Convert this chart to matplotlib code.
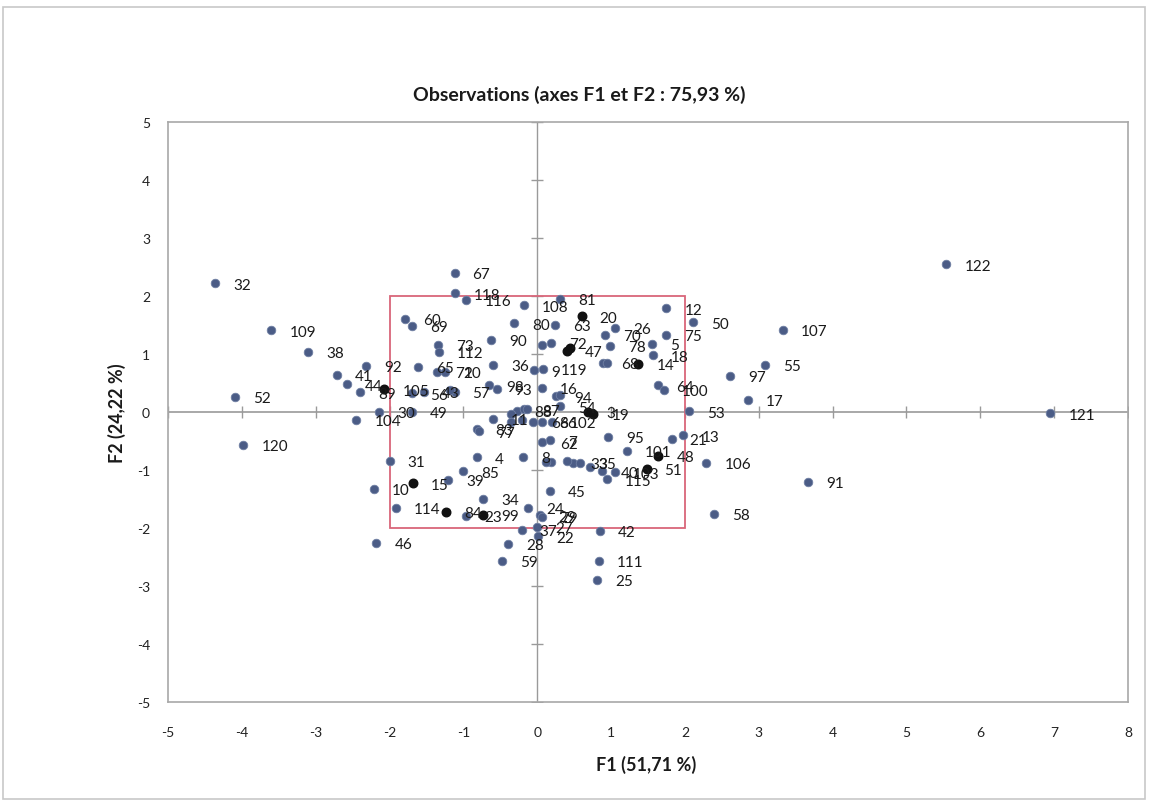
import numpy as np
import matplotlib.pyplot as plt
from matplotlib.patches import Rectangle

plt.rcParams['font.family'] = ['Lato', 'DejaVu Sans']
plt.rcParams['axes.unicode_minus'] = False

# observations drawn in blue
obs_labels = ['32', '109', '38', '92', '41', '44', '89', '52', '104', '120',
              '30', '46', '10', '39', '85', '31', '114', '23', '34', '4',
              '8', '24', '37', '28', '59', '45', '62', '7', '83', '77',
              '11', '56', '43', '57', '', '98', '93', '16', '9', '119',
              '36', '90', '72', '', '26', '70', '78', '5', '18', '68',
              '', '64', '100', '12', '50', '75', '107', '55', '97', '17',
              '53', '21', '13', '101', '95', '106', '91', '58', '40', '103',
              '115', '33', '35', '42', '111', '25', '22', '29', '79', '27',
              '54', '94', '66', '86', '102', '88', '87', '67', '118', '116',
              '108', '81', '63', '80', '60', '69', '73', '112', '65', '71',
              '20', '49', '122', '121', '', '', '', '', '', '',
              '', '', '']
obs_f1 = [-4.36, -3.60, -3.10, -2.32, -2.71, -2.58, -2.40, -4.09, -2.45, -3.98,
          -2.14, -2.18, -2.21, -1.21, -1.00, -2.00, -1.91, -0.96, -0.73, -0.82,
          -0.19, -0.12, -0.21, -0.39, -0.48, 0.17, 0.06, 0.17, -0.82, -0.79,
          -0.60, -1.70, -1.54, -1.12, -1.18, -0.66, -0.55, 0.06, -0.05, 0.08,
          -0.60, -0.63, 0.19, 0.06, 1.05, 0.92, 0.98, 1.55, 1.57, 0.89,
          0.94, 1.64, 1.71, 1.75, 2.11, 1.75, 3.33, 3.09, 2.61, 2.85,
          2.05, 1.82, 1.98, 1.21, 0.96, 2.29, 3.67, 2.40, 0.88, 1.05,
          0.94, 0.48, 0.58, 0.85, 0.83, 0.81, 0.01, 0.04, 0.06, 0.00,
          0.31, 0.26, -0.06, 0.06, 0.20, -0.28, -0.18, -1.12, -1.11, -0.96,
          -0.18, 0.31, 0.24, -0.31, -1.79, -1.70, -1.34, -1.33, -1.62, -1.36,
          -1.25, -1.70, 5.54, 6.95, -0.35, -0.21, 0.40, 0.71, 0.19, 0.12,
          -0.14, 0.31, -0.35]
obs_f2 = [2.22, 1.41, 1.04, 0.80, 0.64, 0.48, 0.34, 0.26, -0.13, -0.56,
          0.00, -2.26, -1.32, -1.17, -1.02, -0.84, -1.65, -1.79, -1.50, -0.78,
          -0.77, -1.65, -2.03, -2.27, -2.56, -1.36, -0.52, -0.49, -0.29, -0.33,
          -0.12, 0.32, 0.35, 0.35, 0.38, 0.46, 0.40, 0.42, 0.72, 0.75,
          0.81, 1.24, 1.19, 1.16, 1.45, 1.33, 1.14, 1.18, 0.98, 0.85,
          0.84, 0.46, 0.38, 1.79, 1.55, 1.33, 1.42, 0.81, 0.62, 0.21,
          0.01, -0.46, -0.40, -0.67, -0.43, -0.88, -1.20, -1.75, -1.02, -1.04,
          -1.16, -0.88, -0.88, -2.05, -2.56, -2.89, -2.14, -1.78, -1.81, -1.98,
          0.10, 0.27, -0.17, -0.17, -0.17, 0.02, 0.05, 2.40, 2.05, 1.94,
          1.84, 1.95, 1.50, 1.53, 1.61, 1.49, 1.16, 1.04, 0.78, 0.69,
          0.69, 0.00, 2.55, -0.02, -0.03, -0.14, -0.84, -0.95, -0.87, -0.87,
          0.06, 0.29, -0.17]

# observations drawn in black
hl_labels = ['105', '15', '84', '99', '47', '', '20', '14', '3', '19', '48', '51']
hl_f1 = [-2.07, -1.68, -1.23, -0.73, 0.40, 0.44, 0.60, 1.37, 0.69, 0.76, 1.64, 1.48]
hl_f2 = [0.39, -1.23, -1.72, -1.77, 1.06, 1.10, 1.65, 0.83, 0.00, -0.03, -0.75, -0.98]

fig = plt.figure(figsize=(11.51, 8.03), dpi=100)
ax = fig.add_axes([0.146, 0.1245, 0.834, 0.7223])

ax.scatter(obs_f1, obs_f2, s=38, color='#4b5c86', edgecolor='#6f7fa3', linewidth=0.6, zorder=3)
ax.scatter(hl_f1, hl_f2, s=38, color='#111111', zorder=4)

for lab, x, y in zip(obs_labels + hl_labels, obs_f1 + hl_f1, obs_f2 + hl_f2):
    if lab:
        ax.annotate(lab, (x, y), xytext=(13, -1), textcoords='offset points',
                    va='center', ha='left', fontsize=11, color='#1a1a1a', zorder=5)

# red square around the center
ax.add_patch(Rectangle((-2, -2), 4, 4, fill=False, edgecolor='#d9667a', linewidth=1.3, zorder=2))

# axes through the origin with small cross ticks
ax.axhline(0, color='#9a9a9a', linewidth=1.2, zorder=1)
ax.axvline(0, color='#9a9a9a', linewidth=1.0, zorder=1)
xt = np.arange(-5, 9)
yt = np.arange(-5, 6)
ax.plot(xt, np.zeros(len(xt)), '|', color='#9a9a9a', markersize=8, zorder=1)
ax.plot(np.zeros(len(yt)), yt, '_', color='#9a9a9a', markersize=8, zorder=1)

ax.set_xlim(-5, 8)
ax.set_ylim(-5, 5)
ax.set_xticks(xt)
ax.set_yticks(yt)
ax.tick_params(length=0, labelsize=10, colors='#222222')
ax.tick_params(axis='x', pad=17)
ax.tick_params(axis='y', pad=13)
for s in ax.spines.values():
    s.set_color('#a8a8a8')
    s.set_linewidth(1.2)

fig.text(0.503, 0.882, 'Observations (axes F1 et F2 : 75,93 %)', ha='center', va='center',
         fontsize=14, fontweight='bold', color='#1a1a1a')
fig.text(0.561, 0.048, 'F1 (51,71 %)', ha='center', va='center', fontsize=13,
         fontweight='bold', color='#1a1a1a')
fig.text(0.102, 0.486, 'F2 (24,22 %)', ha='center', va='center', fontsize=13,
         fontweight='bold', color='#1a1a1a', rotation=90)

# light frame around the whole chart
fig.patches.append(Rectangle((0.003, 0.004), 0.992, 0.986, transform=fig.transFigure,
                             fill=False, edgecolor='#c8c8c8', linewidth=1.2))

fig.savefig('out.png', dpi=100)
